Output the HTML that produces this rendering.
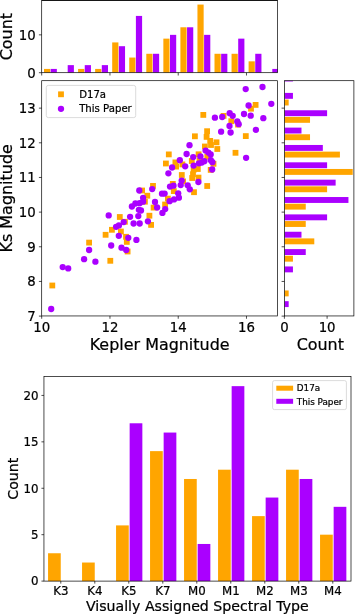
<!DOCTYPE html>
<html lang="en">
<head>
<meta charset="utf-8">
<title>Figure</title>
<style>html,body{margin:0;padding:0;background:#fff;}svg{display:block;will-change:transform;}</style>
</head>
<body>
<svg width="357" height="614" viewBox="0 0 357 614" font-family='"DejaVu Sans", "Liberation Sans", sans-serif' fill="#000" stroke="#000" stroke-width="0">
<rect x="0" y="0" width="357" height="614" fill="#fff"/>
<clipPath id="ct"><rect x="41.7" y="0.5" width="235.90000000000003" height="72.2"/></clipPath>
<g clip-path="url(#ct)">
<rect x="44.00" y="68.92" width="6.20" height="3.79" fill="#ffa500" />
<rect x="50.65" y="68.92" width="6.20" height="3.79" fill="#aa00ff" />
<rect x="67.70" y="65.13" width="6.20" height="7.57" fill="#aa00ff" />
<rect x="78.10" y="68.92" width="6.20" height="3.79" fill="#ffa500" />
<rect x="84.75" y="65.13" width="6.20" height="7.57" fill="#aa00ff" />
<rect x="95.15" y="68.92" width="6.20" height="3.79" fill="#ffa500" />
<rect x="101.80" y="65.13" width="6.20" height="7.57" fill="#aa00ff" />
<rect x="112.20" y="42.42" width="6.20" height="30.28" fill="#ffa500" />
<rect x="118.85" y="46.20" width="6.20" height="26.50" fill="#aa00ff" />
<rect x="129.25" y="57.56" width="6.20" height="15.14" fill="#ffa500" />
<rect x="135.90" y="15.92" width="6.20" height="56.78" fill="#aa00ff" />
<rect x="146.30" y="53.78" width="6.20" height="18.93" fill="#ffa500" />
<rect x="152.95" y="53.78" width="6.20" height="18.93" fill="#aa00ff" />
<rect x="163.35" y="38.64" width="6.20" height="34.06" fill="#ffa500" />
<rect x="170.00" y="34.85" width="6.20" height="37.85" fill="#aa00ff" />
<rect x="180.40" y="27.28" width="6.20" height="45.42" fill="#ffa500" />
<rect x="187.05" y="27.28" width="6.20" height="45.42" fill="#aa00ff" />
<rect x="197.45" y="4.57" width="6.20" height="68.13" fill="#ffa500" />
<rect x="204.10" y="34.85" width="6.20" height="37.85" fill="#aa00ff" />
<rect x="214.50" y="53.78" width="6.20" height="18.93" fill="#ffa500" />
<rect x="221.15" y="53.78" width="6.20" height="18.93" fill="#aa00ff" />
<rect x="231.55" y="53.78" width="6.20" height="18.93" fill="#ffa500" />
<rect x="238.20" y="38.64" width="6.20" height="34.06" fill="#aa00ff" />
<rect x="248.60" y="61.34" width="6.20" height="11.36" fill="#ffa500" />
<rect x="255.25" y="53.78" width="6.20" height="18.93" fill="#aa00ff" />
<rect x="272.30" y="68.92" width="6.20" height="3.79" fill="#aa00ff" />
</g>
<rect x="41.70" y="0.50" width="235.90" height="72.20" fill="none" stroke="#000" stroke-width="0.7"/>
<line x1="41.70" y1="0.40" x2="277.60" y2="0.40" stroke="#000" stroke-width="0.8"/>
<line x1="109.96" y1="72.70" x2="109.96" y2="75.50" stroke="#000" stroke-width="0.7"/>
<line x1="178.22" y1="72.70" x2="178.22" y2="75.50" stroke="#000" stroke-width="0.7"/>
<line x1="246.48" y1="72.70" x2="246.48" y2="75.50" stroke="#000" stroke-width="0.7"/>
<line x1="41.70" y1="72.70" x2="41.70" y2="75.50" stroke="#000" stroke-width="0.7"/>
<line x1="38.90" y1="72.70" x2="41.70" y2="72.70" stroke="#000" stroke-width="0.7"/>
<text x="35.70" y="77.55" font-size="13.3" text-anchor="end" stroke-width="0.22" >0</text>
<line x1="38.90" y1="34.85" x2="41.70" y2="34.85" stroke="#000" stroke-width="0.7"/>
<text x="35.70" y="39.70" font-size="13.3" text-anchor="end" stroke-width="0.22" >10</text>
<text x="12.30" y="36.60" font-size="15.95" text-anchor="middle" transform="rotate(-90 12.30 36.60)" stroke-width="0.22" >Count</text>
<rect x="49.40" y="282.60" width="5.80" height="5.80" fill="#ffa500" />
<rect x="107.40" y="257.90" width="5.80" height="5.80" fill="#ffa500" />
<rect x="86.20" y="239.70" width="5.80" height="5.80" fill="#ffa500" />
<rect x="124.70" y="248.60" width="5.80" height="5.80" fill="#ffa500" />
<rect x="102.70" y="231.90" width="5.80" height="5.80" fill="#ffa500" />
<rect x="109.00" y="226.90" width="5.80" height="5.80" fill="#ffa500" />
<rect x="118.00" y="228.60" width="5.80" height="5.80" fill="#ffa500" />
<rect x="123.10" y="233.90" width="5.80" height="5.80" fill="#ffa500" />
<rect x="123.90" y="239.00" width="5.80" height="5.80" fill="#ffa500" />
<rect x="116.90" y="214.10" width="5.80" height="5.80" fill="#ffa500" />
<rect x="122.00" y="218.90" width="5.80" height="5.80" fill="#ffa500" />
<rect x="148.20" y="222.00" width="5.80" height="5.80" fill="#ffa500" />
<rect x="146.50" y="212.80" width="5.80" height="5.80" fill="#ffa500" />
<rect x="142.00" y="198.80" width="5.80" height="5.80" fill="#ffa500" />
<rect x="150.70" y="204.70" width="5.80" height="5.80" fill="#ffa500" />
<rect x="162.20" y="201.60" width="5.80" height="5.80" fill="#ffa500" />
<rect x="163.00" y="160.60" width="5.80" height="5.80" fill="#ffa500" />
<rect x="150.10" y="183.00" width="5.80" height="5.80" fill="#ffa500" />
<rect x="139.20" y="187.60" width="5.80" height="5.80" fill="#ffa500" />
<rect x="144.40" y="192.80" width="5.80" height="5.80" fill="#ffa500" />
<rect x="165.00" y="195.70" width="5.80" height="5.80" fill="#ffa500" />
<rect x="170.90" y="188.20" width="5.80" height="5.80" fill="#ffa500" />
<rect x="169.90" y="181.00" width="5.80" height="5.80" fill="#ffa500" />
<rect x="180.20" y="178.50" width="5.80" height="5.80" fill="#ffa500" />
<rect x="191.10" y="189.30" width="5.80" height="5.80" fill="#ffa500" />
<rect x="204.30" y="183.10" width="5.80" height="5.80" fill="#ffa500" />
<rect x="165.90" y="151.50" width="5.80" height="5.80" fill="#ffa500" />
<rect x="172.50" y="159.50" width="5.80" height="5.80" fill="#ffa500" />
<rect x="173.20" y="163.70" width="5.80" height="5.80" fill="#ffa500" />
<rect x="179.50" y="161.50" width="5.80" height="5.80" fill="#ffa500" />
<rect x="188.90" y="158.10" width="5.80" height="5.80" fill="#ffa500" />
<rect x="195.70" y="151.40" width="5.80" height="5.80" fill="#ffa500" />
<rect x="202.00" y="143.60" width="5.80" height="5.80" fill="#ffa500" />
<rect x="204.40" y="153.90" width="5.80" height="5.80" fill="#ffa500" />
<rect x="194.90" y="166.10" width="5.80" height="5.80" fill="#ffa500" />
<rect x="190.80" y="166.70" width="5.80" height="5.80" fill="#ffa500" />
<rect x="190.10" y="171.30" width="5.80" height="5.80" fill="#ffa500" />
<rect x="207.80" y="167.00" width="5.80" height="5.80" fill="#ffa500" />
<rect x="178.90" y="172.10" width="5.80" height="5.80" fill="#ffa500" />
<rect x="189.30" y="175.10" width="5.80" height="5.80" fill="#ffa500" />
<rect x="195.60" y="174.70" width="5.80" height="5.80" fill="#ffa500" />
<rect x="204.20" y="128.30" width="5.80" height="5.80" fill="#ffa500" />
<rect x="192.00" y="133.40" width="5.80" height="5.80" fill="#ffa500" />
<rect x="203.70" y="134.00" width="5.80" height="5.80" fill="#ffa500" />
<rect x="207.30" y="138.00" width="5.80" height="5.80" fill="#ffa500" />
<rect x="213.60" y="139.40" width="5.80" height="5.80" fill="#ffa500" />
<rect x="208.10" y="142.10" width="5.80" height="5.80" fill="#ffa500" />
<rect x="214.40" y="146.10" width="5.80" height="5.80" fill="#ffa500" />
<rect x="232.60" y="149.90" width="5.80" height="5.80" fill="#ffa500" />
<rect x="210.60" y="160.90" width="5.80" height="5.80" fill="#ffa500" />
<rect x="200.40" y="112.00" width="5.80" height="5.80" fill="#ffa500" />
<rect x="220.70" y="113.00" width="5.80" height="5.80" fill="#ffa500" />
<rect x="228.40" y="118.30" width="5.80" height="5.80" fill="#ffa500" />
<rect x="235.10" y="121.70" width="5.80" height="5.80" fill="#ffa500" />
<rect x="252.70" y="102.00" width="5.80" height="5.80" fill="#ffa500" />
<rect x="248.10" y="105.80" width="5.80" height="5.80" fill="#ffa500" />
<rect x="242.90" y="133.20" width="5.80" height="5.80" fill="#ffa500" />
<rect x="196.60" y="157.60" width="5.80" height="5.80" fill="#ffa500" />
<circle cx="51.20" cy="309.00" r="3.15" fill="#aa00ff"/>
<circle cx="62.70" cy="267.10" r="3.15" fill="#aa00ff"/>
<circle cx="68.20" cy="268.40" r="3.15" fill="#aa00ff"/>
<circle cx="84.10" cy="259.20" r="3.15" fill="#aa00ff"/>
<circle cx="95.40" cy="261.70" r="3.15" fill="#aa00ff"/>
<circle cx="89.10" cy="250.00" r="3.15" fill="#aa00ff"/>
<circle cx="111.20" cy="245.50" r="3.15" fill="#aa00ff"/>
<circle cx="121.50" cy="247.70" r="3.15" fill="#aa00ff"/>
<circle cx="126.20" cy="250.00" r="3.15" fill="#aa00ff"/>
<circle cx="116.10" cy="226.80" r="3.15" fill="#aa00ff"/>
<circle cx="118.90" cy="225.40" r="3.15" fill="#aa00ff"/>
<circle cx="118.80" cy="235.80" r="3.15" fill="#aa00ff"/>
<circle cx="123.70" cy="222.10" r="3.15" fill="#aa00ff"/>
<circle cx="128.30" cy="237.80" r="3.15" fill="#aa00ff"/>
<circle cx="130.10" cy="216.80" r="3.15" fill="#aa00ff"/>
<circle cx="133.60" cy="223.50" r="3.15" fill="#aa00ff"/>
<circle cx="139.70" cy="223.50" r="3.15" fill="#aa00ff"/>
<circle cx="147.90" cy="221.30" r="3.15" fill="#aa00ff"/>
<circle cx="138.30" cy="216.10" r="3.15" fill="#aa00ff"/>
<circle cx="138.90" cy="209.80" r="3.15" fill="#aa00ff"/>
<circle cx="141.00" cy="210.50" r="3.15" fill="#aa00ff"/>
<circle cx="131.90" cy="206.50" r="3.15" fill="#aa00ff"/>
<circle cx="135.40" cy="203.50" r="3.15" fill="#aa00ff"/>
<circle cx="139.60" cy="203.20" r="3.15" fill="#aa00ff"/>
<circle cx="143.10" cy="201.70" r="3.15" fill="#aa00ff"/>
<circle cx="155.00" cy="202.00" r="3.15" fill="#aa00ff"/>
<circle cx="157.10" cy="207.50" r="3.15" fill="#aa00ff"/>
<circle cx="162.40" cy="212.90" r="3.15" fill="#aa00ff"/>
<circle cx="165.20" cy="209.10" r="3.15" fill="#aa00ff"/>
<circle cx="169.60" cy="201.20" r="3.15" fill="#aa00ff"/>
<circle cx="136.40" cy="239.90" r="3.15" fill="#aa00ff"/>
<circle cx="108.70" cy="215.40" r="3.15" fill="#aa00ff"/>
<circle cx="152.20" cy="189.10" r="3.15" fill="#aa00ff"/>
<circle cx="139.30" cy="190.50" r="3.15" fill="#aa00ff"/>
<circle cx="143.10" cy="197.80" r="3.15" fill="#aa00ff"/>
<circle cx="162.00" cy="193.70" r="3.15" fill="#aa00ff"/>
<circle cx="164.60" cy="193.60" r="3.15" fill="#aa00ff"/>
<circle cx="170.00" cy="186.60" r="3.15" fill="#aa00ff"/>
<circle cx="174.00" cy="199.40" r="3.15" fill="#aa00ff"/>
<circle cx="178.90" cy="197.70" r="3.15" fill="#aa00ff"/>
<circle cx="178.20" cy="193.30" r="3.15" fill="#aa00ff"/>
<circle cx="173.50" cy="185.70" r="3.15" fill="#aa00ff"/>
<circle cx="180.70" cy="185.10" r="3.15" fill="#aa00ff"/>
<circle cx="181.70" cy="180.60" r="3.15" fill="#aa00ff"/>
<circle cx="187.70" cy="185.30" r="3.15" fill="#aa00ff"/>
<circle cx="189.80" cy="189.30" r="3.15" fill="#aa00ff"/>
<circle cx="198.40" cy="182.00" r="3.15" fill="#aa00ff"/>
<circle cx="189.50" cy="145.20" r="3.15" fill="#aa00ff"/>
<circle cx="186.60" cy="154.00" r="3.15" fill="#aa00ff"/>
<circle cx="179.80" cy="160.20" r="3.15" fill="#aa00ff"/>
<circle cx="172.10" cy="167.50" r="3.15" fill="#aa00ff"/>
<circle cx="168.40" cy="173.30" r="3.15" fill="#aa00ff"/>
<circle cx="185.20" cy="166.30" r="3.15" fill="#aa00ff"/>
<circle cx="193.20" cy="157.10" r="3.15" fill="#aa00ff"/>
<circle cx="200.40" cy="156.40" r="3.15" fill="#aa00ff"/>
<circle cx="193.60" cy="165.60" r="3.15" fill="#aa00ff"/>
<circle cx="198.90" cy="163.30" r="3.15" fill="#aa00ff"/>
<circle cx="201.80" cy="162.60" r="3.15" fill="#aa00ff"/>
<circle cx="204.30" cy="161.20" r="3.15" fill="#aa00ff"/>
<circle cx="205.60" cy="150.60" r="3.15" fill="#aa00ff"/>
<circle cx="208.40" cy="152.60" r="3.15" fill="#aa00ff"/>
<circle cx="210.70" cy="154.50" r="3.15" fill="#aa00ff"/>
<circle cx="210.80" cy="160.20" r="3.15" fill="#aa00ff"/>
<circle cx="212.40" cy="162.20" r="3.15" fill="#aa00ff"/>
<circle cx="212.20" cy="169.50" r="3.15" fill="#aa00ff"/>
<circle cx="221.10" cy="131.70" r="3.15" fill="#aa00ff"/>
<circle cx="230.60" cy="132.50" r="3.15" fill="#aa00ff"/>
<circle cx="214.90" cy="117.70" r="3.15" fill="#aa00ff"/>
<circle cx="222.20" cy="117.00" r="3.15" fill="#aa00ff"/>
<circle cx="229.70" cy="113.20" r="3.15" fill="#aa00ff"/>
<circle cx="232.70" cy="115.80" r="3.15" fill="#aa00ff"/>
<circle cx="237.30" cy="121.40" r="3.15" fill="#aa00ff"/>
<circle cx="238.70" cy="124.20" r="3.15" fill="#aa00ff"/>
<circle cx="229.50" cy="126.00" r="3.15" fill="#aa00ff"/>
<circle cx="245.70" cy="89.10" r="3.15" fill="#aa00ff"/>
<circle cx="262.50" cy="87.00" r="3.15" fill="#aa00ff"/>
<circle cx="271.30" cy="103.80" r="3.15" fill="#aa00ff"/>
<circle cx="248.60" cy="105.50" r="3.15" fill="#aa00ff"/>
<circle cx="244.00" cy="114.00" r="3.15" fill="#aa00ff"/>
<circle cx="250.70" cy="115.70" r="3.15" fill="#aa00ff"/>
<circle cx="263.30" cy="118.20" r="3.15" fill="#aa00ff"/>
<circle cx="255.90" cy="129.80" r="3.15" fill="#aa00ff"/>
<circle cx="246.10" cy="157.80" r="3.15" fill="#aa00ff"/>
<rect x="41.70" y="80.70" width="235.90" height="235.25" fill="none" stroke="#000" stroke-width="0.7"/>
<line x1="41.70" y1="315.95" x2="41.70" y2="318.75" stroke="#000" stroke-width="0.7"/>
<text x="41.70" y="331.86" font-size="13.3" text-anchor="middle" stroke-width="0.22" >10</text>
<line x1="109.96" y1="315.95" x2="109.96" y2="318.75" stroke="#000" stroke-width="0.7"/>
<text x="109.96" y="331.86" font-size="13.3" text-anchor="middle" stroke-width="0.22" >12</text>
<line x1="178.22" y1="315.95" x2="178.22" y2="318.75" stroke="#000" stroke-width="0.7"/>
<text x="178.22" y="331.86" font-size="13.3" text-anchor="middle" stroke-width="0.22" >14</text>
<line x1="246.48" y1="315.95" x2="246.48" y2="318.75" stroke="#000" stroke-width="0.7"/>
<text x="246.48" y="331.86" font-size="13.3" text-anchor="middle" stroke-width="0.22" >16</text>
<line x1="38.90" y1="316.10" x2="41.70" y2="316.10" stroke="#000" stroke-width="0.7"/>
<text x="35.70" y="320.95" font-size="13.3" text-anchor="end" stroke-width="0.22" >7</text>
<line x1="38.90" y1="281.44" x2="41.70" y2="281.44" stroke="#000" stroke-width="0.7"/>
<text x="35.70" y="286.29" font-size="13.3" text-anchor="end" stroke-width="0.22" >8</text>
<line x1="38.90" y1="246.78" x2="41.70" y2="246.78" stroke="#000" stroke-width="0.7"/>
<text x="35.70" y="251.63" font-size="13.3" text-anchor="end" stroke-width="0.22" >9</text>
<line x1="38.90" y1="212.12" x2="41.70" y2="212.12" stroke="#000" stroke-width="0.7"/>
<text x="35.70" y="216.97" font-size="13.3" text-anchor="end" stroke-width="0.22" >10</text>
<line x1="38.90" y1="177.46" x2="41.70" y2="177.46" stroke="#000" stroke-width="0.7"/>
<text x="35.70" y="182.31" font-size="13.3" text-anchor="end" stroke-width="0.22" >11</text>
<line x1="38.90" y1="142.80" x2="41.70" y2="142.80" stroke="#000" stroke-width="0.7"/>
<text x="35.70" y="147.65" font-size="13.3" text-anchor="end" stroke-width="0.22" >12</text>
<line x1="38.90" y1="108.14" x2="41.70" y2="108.14" stroke="#000" stroke-width="0.7"/>
<text x="35.70" y="112.99" font-size="13.3" text-anchor="end" stroke-width="0.22" >13</text>
<text x="159.65" y="350.00" font-size="15.95" text-anchor="middle" stroke-width="0.22" >Kepler Magnitude</text>
<text x="12.30" y="198.32" font-size="15.95" text-anchor="middle" transform="rotate(-90 12.30 198.32)" stroke-width="0.22" >Ks Magnitude</text>
<rect x="46.3" y="85.4" width="89.4" height="32.2" rx="2" ry="2" fill="#fff" fill-opacity="0.8" stroke="#d2d2d2" stroke-width="0.8"/>
<rect x="58.10" y="91.40" width="5.80" height="5.80" fill="#ffa500" />
<circle cx="61.0" cy="108.85" r="3.15" fill="#aa00ff"/>
<text x="79.20" y="97.80" font-size="10.15" text-anchor="start" stroke-width="0.22" >D17a</text>
<text x="79.20" y="112.40" font-size="10.15" text-anchor="start" stroke-width="0.22" >This Paper</text>
<clipPath id="cr"><rect x="284.4" y="80.7" width="69.5" height="235.25"/></clipPath>
<g clip-path="url(#cr)">
<rect x="284.40" y="75.55" width="8.54" height="5.90" fill="#aa00ff" />
<rect x="284.40" y="92.91" width="8.54" height="5.90" fill="#aa00ff" />
<rect x="284.40" y="99.56" width="4.27" height="5.90" fill="#ffa500" />
<rect x="284.40" y="110.26" width="42.70" height="5.90" fill="#aa00ff" />
<rect x="284.40" y="116.91" width="25.62" height="5.90" fill="#ffa500" />
<rect x="284.40" y="127.61" width="17.08" height="5.90" fill="#aa00ff" />
<rect x="284.40" y="134.26" width="25.62" height="5.90" fill="#ffa500" />
<rect x="284.40" y="144.97" width="38.43" height="5.90" fill="#aa00ff" />
<rect x="284.40" y="151.62" width="55.51" height="5.90" fill="#ffa500" />
<rect x="284.40" y="162.32" width="42.70" height="5.90" fill="#aa00ff" />
<rect x="284.40" y="168.97" width="68.32" height="5.90" fill="#ffa500" />
<rect x="284.40" y="179.68" width="51.24" height="5.90" fill="#aa00ff" />
<rect x="284.40" y="186.33" width="42.70" height="5.90" fill="#ffa500" />
<rect x="284.40" y="197.03" width="64.05" height="5.90" fill="#aa00ff" />
<rect x="284.40" y="203.69" width="21.35" height="5.90" fill="#ffa500" />
<rect x="284.40" y="214.39" width="42.70" height="5.90" fill="#aa00ff" />
<rect x="284.40" y="221.04" width="21.35" height="5.90" fill="#ffa500" />
<rect x="284.40" y="231.75" width="17.08" height="5.90" fill="#aa00ff" />
<rect x="284.40" y="238.40" width="29.89" height="5.90" fill="#ffa500" />
<rect x="284.40" y="249.10" width="21.35" height="5.90" fill="#aa00ff" />
<rect x="284.40" y="255.75" width="8.54" height="5.90" fill="#ffa500" />
<rect x="284.40" y="266.45" width="8.54" height="5.90" fill="#aa00ff" />
<rect x="284.40" y="290.46" width="4.27" height="5.90" fill="#ffa500" />
<rect x="284.40" y="301.17" width="4.27" height="5.90" fill="#aa00ff" />
</g>
<rect x="284.40" y="80.70" width="69.50" height="235.25" fill="none" stroke="#000" stroke-width="0.7"/>
<line x1="281.60" y1="316.10" x2="284.40" y2="316.10" stroke="#000" stroke-width="0.7"/>
<line x1="281.60" y1="281.44" x2="284.40" y2="281.44" stroke="#000" stroke-width="0.7"/>
<line x1="281.60" y1="246.78" x2="284.40" y2="246.78" stroke="#000" stroke-width="0.7"/>
<line x1="281.60" y1="212.12" x2="284.40" y2="212.12" stroke="#000" stroke-width="0.7"/>
<line x1="281.60" y1="177.46" x2="284.40" y2="177.46" stroke="#000" stroke-width="0.7"/>
<line x1="281.60" y1="142.80" x2="284.40" y2="142.80" stroke="#000" stroke-width="0.7"/>
<line x1="281.60" y1="108.14" x2="284.40" y2="108.14" stroke="#000" stroke-width="0.7"/>
<line x1="284.40" y1="315.95" x2="284.40" y2="318.75" stroke="#000" stroke-width="0.7"/>
<text x="284.40" y="331.86" font-size="13.3" text-anchor="middle" stroke-width="0.22" >0</text>
<line x1="327.10" y1="315.95" x2="327.10" y2="318.75" stroke="#000" stroke-width="0.7"/>
<text x="327.10" y="331.86" font-size="13.3" text-anchor="middle" stroke-width="0.22" >10</text>
<text x="320.30" y="350.00" font-size="15.95" text-anchor="middle" stroke-width="0.22" >Count</text>
<rect x="48.05" y="553.25" width="12.70" height="27.85" fill="#ffa500" />
<line x1="60.80" y1="581.10" x2="60.80" y2="583.60" stroke="#000" stroke-width="0.7"/>
<text x="60.80" y="595.21" font-size="11.8" text-anchor="middle" stroke-width="0.22" >K3</text>
<rect x="82.05" y="562.53" width="12.70" height="18.57" fill="#ffa500" />
<line x1="94.80" y1="581.10" x2="94.80" y2="583.60" stroke="#000" stroke-width="0.7"/>
<text x="94.80" y="595.21" font-size="11.8" text-anchor="middle" stroke-width="0.22" >K4</text>
<rect x="116.05" y="525.40" width="12.70" height="55.70" fill="#ffa500" />
<rect x="129.65" y="423.28" width="12.70" height="157.82" fill="#aa00ff" />
<line x1="128.80" y1="581.10" x2="128.80" y2="583.60" stroke="#000" stroke-width="0.7"/>
<text x="128.80" y="595.21" font-size="11.8" text-anchor="middle" stroke-width="0.22" >K5</text>
<rect x="150.05" y="451.13" width="12.70" height="129.97" fill="#ffa500" />
<rect x="163.65" y="432.56" width="12.70" height="148.54" fill="#aa00ff" />
<line x1="162.80" y1="581.10" x2="162.80" y2="583.60" stroke="#000" stroke-width="0.7"/>
<text x="162.80" y="595.21" font-size="11.8" text-anchor="middle" stroke-width="0.22" >K7</text>
<rect x="184.05" y="478.98" width="12.70" height="102.12" fill="#ffa500" />
<rect x="197.65" y="543.97" width="12.70" height="37.13" fill="#aa00ff" />
<line x1="196.80" y1="581.10" x2="196.80" y2="583.60" stroke="#000" stroke-width="0.7"/>
<text x="196.80" y="595.21" font-size="11.8" text-anchor="middle" stroke-width="0.22" >M0</text>
<rect x="218.05" y="469.70" width="12.70" height="111.40" fill="#ffa500" />
<rect x="231.65" y="386.15" width="12.70" height="194.95" fill="#aa00ff" />
<line x1="230.80" y1="581.10" x2="230.80" y2="583.60" stroke="#000" stroke-width="0.7"/>
<text x="230.80" y="595.21" font-size="11.8" text-anchor="middle" stroke-width="0.22" >M1</text>
<rect x="252.05" y="516.12" width="12.70" height="64.98" fill="#ffa500" />
<rect x="265.65" y="497.55" width="12.70" height="83.55" fill="#aa00ff" />
<line x1="264.80" y1="581.10" x2="264.80" y2="583.60" stroke="#000" stroke-width="0.7"/>
<text x="264.80" y="595.21" font-size="11.8" text-anchor="middle" stroke-width="0.22" >M2</text>
<rect x="286.05" y="469.70" width="12.70" height="111.40" fill="#ffa500" />
<rect x="299.65" y="478.98" width="12.70" height="102.12" fill="#aa00ff" />
<line x1="298.80" y1="581.10" x2="298.80" y2="583.60" stroke="#000" stroke-width="0.7"/>
<text x="298.80" y="595.21" font-size="11.8" text-anchor="middle" stroke-width="0.22" >M3</text>
<rect x="320.05" y="534.68" width="12.70" height="46.42" fill="#ffa500" />
<rect x="333.65" y="506.83" width="12.70" height="74.27" fill="#aa00ff" />
<line x1="332.80" y1="581.10" x2="332.80" y2="583.60" stroke="#000" stroke-width="0.7"/>
<text x="332.80" y="595.21" font-size="11.8" text-anchor="middle" stroke-width="0.22" >M4</text>
<rect x="43.95" y="376.40" width="307.05" height="204.70" fill="none" stroke="#000" stroke-width="0.7"/>
<line x1="41.45" y1="581.10" x2="43.95" y2="581.10" stroke="#000" stroke-width="0.7"/>
<text x="38.55" y="585.41" font-size="11.8" text-anchor="end" stroke-width="0.22" >0</text>
<line x1="41.45" y1="534.68" x2="43.95" y2="534.68" stroke="#000" stroke-width="0.7"/>
<text x="38.55" y="538.99" font-size="11.8" text-anchor="end" stroke-width="0.22" >5</text>
<line x1="41.45" y1="488.27" x2="43.95" y2="488.27" stroke="#000" stroke-width="0.7"/>
<text x="38.55" y="492.57" font-size="11.8" text-anchor="end" stroke-width="0.22" >10</text>
<line x1="41.45" y1="441.85" x2="43.95" y2="441.85" stroke="#000" stroke-width="0.7"/>
<text x="38.55" y="446.16" font-size="11.8" text-anchor="end" stroke-width="0.22" >15</text>
<line x1="41.45" y1="395.43" x2="43.95" y2="395.43" stroke="#000" stroke-width="0.7"/>
<text x="38.55" y="399.74" font-size="11.8" text-anchor="end" stroke-width="0.22" >20</text>
<text x="197.30" y="610.80" font-size="14.15" text-anchor="middle" stroke-width="0.22" >Visually Assigned Spectral Type</text>
<text x="18.20" y="478.75" font-size="14.15" text-anchor="middle" transform="rotate(-90 18.20 478.75)" stroke-width="0.22" >Count</text>
<rect x="272.6" y="380.6" width="73.8" height="29.0" rx="1.8" ry="1.8" fill="#fff" fill-opacity="0.8" stroke="#d2d2d2" stroke-width="0.8"/>
<rect x="276.30" y="385.70" width="16.80" height="5.00" fill="#ffa500" />
<rect x="276.30" y="398.80" width="16.80" height="5.00" fill="#aa00ff" />
<text x="296.80" y="391.20" font-size="8.8" text-anchor="start" stroke-width="0.22" >D17a</text>
<text x="296.80" y="404.60" font-size="8.8" text-anchor="start" stroke-width="0.22" >This Paper</text>
</svg>
</body>
</html>
